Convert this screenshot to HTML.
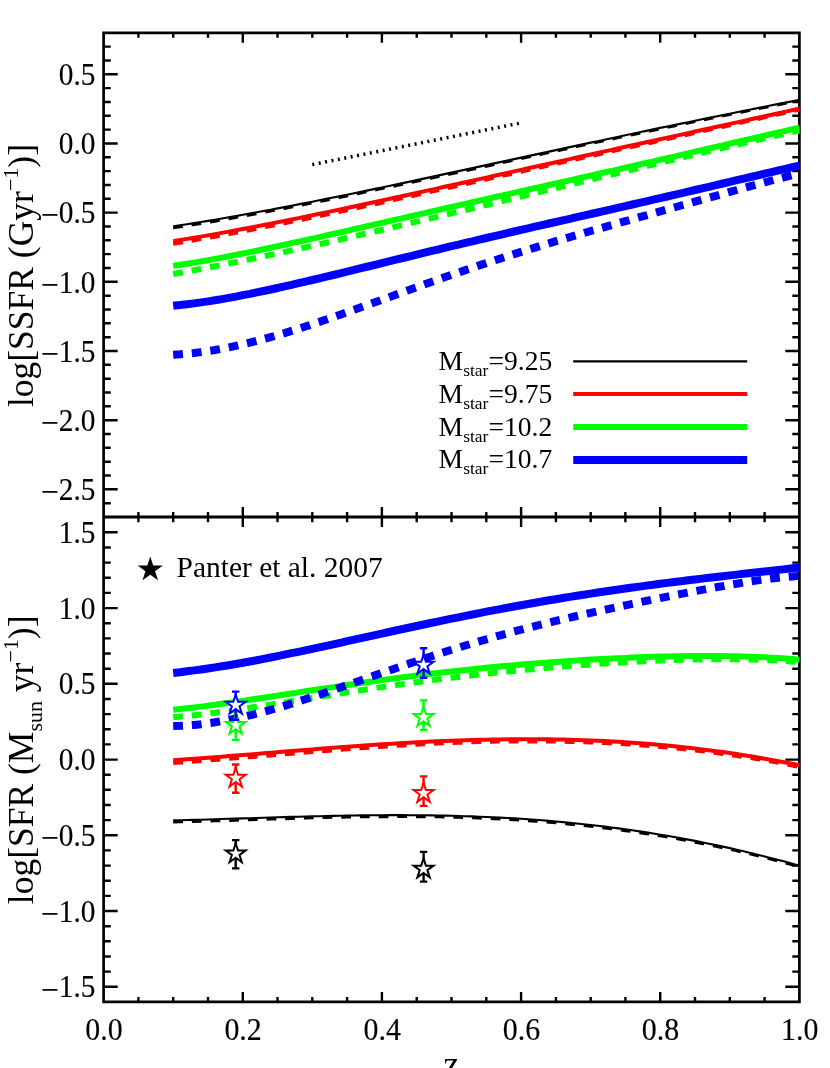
<!DOCTYPE html>
<html><head><meta charset="utf-8"><title>SSFR and SFR vs z</title>
<style>html,body{margin:0;padding:0;background:#fff;overflow:hidden}svg{display:block;will-change:transform}</style></head>
<body>
<svg width="830" height="1068" viewBox="0 0 830 1068">
<rect width="830" height="1068" fill="#fff"/>
<g stroke="#000" stroke-width="2.70" fill="none" stroke-linecap="butt">
<path d="M103.6,32.8 H799.4 V1001.9 H103.6 Z" stroke-linejoin="miter"/>
<path d="M103.6,517.1 H799.4" stroke-width="3"/>
</g>
<g stroke="#000" stroke-width="2.4" fill="none">
<path d="M138.4,32.8 v5.0 M138.4,517.0 v-5.0 M138.4,517.2 v5.0 M138.4,1001.9 v-5.0 M173.2,32.8 v5.0 M173.2,517.0 v-5.0 M173.2,517.2 v5.0 M173.2,1001.9 v-5.0 M208.0,32.8 v5.0 M208.0,517.0 v-5.0 M208.0,517.2 v5.0 M208.0,1001.9 v-5.0 M242.8,32.8 v9.9 M242.8,517.0 v-9.9 M242.8,517.2 v9.9 M242.8,1001.9 v-9.9 M277.5,32.8 v5.0 M277.5,517.0 v-5.0 M277.5,517.2 v5.0 M277.5,1001.9 v-5.0 M312.3,32.8 v5.0 M312.3,517.0 v-5.0 M312.3,517.2 v5.0 M312.3,1001.9 v-5.0 M347.1,32.8 v5.0 M347.1,517.0 v-5.0 M347.1,517.2 v5.0 M347.1,1001.9 v-5.0 M381.9,32.8 v9.9 M381.9,517.0 v-9.9 M381.9,517.2 v9.9 M381.9,1001.9 v-9.9 M416.7,32.8 v5.0 M416.7,517.0 v-5.0 M416.7,517.2 v5.0 M416.7,1001.9 v-5.0 M451.5,32.8 v5.0 M451.5,517.0 v-5.0 M451.5,517.2 v5.0 M451.5,1001.9 v-5.0 M486.3,32.8 v5.0 M486.3,517.0 v-5.0 M486.3,517.2 v5.0 M486.3,1001.9 v-5.0 M521.1,32.8 v9.9 M521.1,517.0 v-9.9 M521.1,517.2 v9.9 M521.1,1001.9 v-9.9 M555.9,32.8 v5.0 M555.9,517.0 v-5.0 M555.9,517.2 v5.0 M555.9,1001.9 v-5.0 M590.7,32.8 v5.0 M590.7,517.0 v-5.0 M590.7,517.2 v5.0 M590.7,1001.9 v-5.0 M625.4,32.8 v5.0 M625.4,517.0 v-5.0 M625.4,517.2 v5.0 M625.4,1001.9 v-5.0 M660.2,32.8 v9.9 M660.2,517.0 v-9.9 M660.2,517.2 v9.9 M660.2,1001.9 v-9.9 M695.0,32.8 v5.0 M695.0,517.0 v-5.0 M695.0,517.2 v5.0 M695.0,1001.9 v-5.0 M729.8,32.8 v5.0 M729.8,517.0 v-5.0 M729.8,517.2 v5.0 M729.8,1001.9 v-5.0 M764.6,32.8 v5.0 M764.6,517.0 v-5.0 M764.6,517.2 v5.0 M764.6,1001.9 v-5.0 M103.6,503.2 h7.1 M799.4,503.2 h-7.1 M103.6,489.3 h14.1 M799.4,489.3 h-14.1 M103.6,475.5 h7.1 M799.4,475.5 h-7.1 M103.6,461.7 h7.1 M799.4,461.7 h-7.1 M103.6,447.8 h7.1 M799.4,447.8 h-7.1 M103.6,434.0 h7.1 M799.4,434.0 h-7.1 M103.6,420.2 h14.1 M799.4,420.2 h-14.1 M103.6,406.3 h7.1 M799.4,406.3 h-7.1 M103.6,392.5 h7.1 M799.4,392.5 h-7.1 M103.6,378.7 h7.1 M799.4,378.7 h-7.1 M103.6,364.8 h7.1 M799.4,364.8 h-7.1 M103.6,351.0 h14.1 M799.4,351.0 h-14.1 M103.6,337.2 h7.1 M799.4,337.2 h-7.1 M103.6,323.3 h7.1 M799.4,323.3 h-7.1 M103.6,309.5 h7.1 M799.4,309.5 h-7.1 M103.6,295.7 h7.1 M799.4,295.7 h-7.1 M103.6,281.8 h14.1 M799.4,281.8 h-14.1 M103.6,268.0 h7.1 M799.4,268.0 h-7.1 M103.6,254.1 h7.1 M799.4,254.1 h-7.1 M103.6,240.3 h7.1 M799.4,240.3 h-7.1 M103.6,226.5 h7.1 M799.4,226.5 h-7.1 M103.6,212.6 h14.1 M799.4,212.6 h-14.1 M103.6,198.8 h7.1 M799.4,198.8 h-7.1 M103.6,185.0 h7.1 M799.4,185.0 h-7.1 M103.6,171.1 h7.1 M799.4,171.1 h-7.1 M103.6,157.3 h7.1 M799.4,157.3 h-7.1 M103.6,143.5 h14.1 M799.4,143.5 h-14.1 M103.6,129.6 h7.1 M799.4,129.6 h-7.1 M103.6,115.8 h7.1 M799.4,115.8 h-7.1 M103.6,102.0 h7.1 M799.4,102.0 h-7.1 M103.6,88.1 h7.1 M799.4,88.1 h-7.1 M103.6,74.3 h14.1 M799.4,74.3 h-14.1 M103.6,60.5 h7.1 M799.4,60.5 h-7.1 M103.6,46.6 h7.1 M799.4,46.6 h-7.1 M103.6,986.8 h14.1 M799.4,986.8 h-14.1 M103.6,971.6 h7.1 M799.4,971.6 h-7.1 M103.6,956.5 h7.1 M799.4,956.5 h-7.1 M103.6,941.3 h7.1 M799.4,941.3 h-7.1 M103.6,926.2 h7.1 M799.4,926.2 h-7.1 M103.6,911.0 h14.1 M799.4,911.0 h-14.1 M103.6,895.9 h7.1 M799.4,895.9 h-7.1 M103.6,880.7 h7.1 M799.4,880.7 h-7.1 M103.6,865.6 h7.1 M799.4,865.6 h-7.1 M103.6,850.4 h7.1 M799.4,850.4 h-7.1 M103.6,835.3 h14.1 M799.4,835.3 h-14.1 M103.6,820.1 h7.1 M799.4,820.1 h-7.1 M103.6,805.0 h7.1 M799.4,805.0 h-7.1 M103.6,789.8 h7.1 M799.4,789.8 h-7.1 M103.6,774.7 h7.1 M799.4,774.7 h-7.1 M103.6,759.6 h14.1 M799.4,759.6 h-14.1 M103.6,744.4 h7.1 M799.4,744.4 h-7.1 M103.6,729.3 h7.1 M799.4,729.3 h-7.1 M103.6,714.1 h7.1 M799.4,714.1 h-7.1 M103.6,699.0 h7.1 M799.4,699.0 h-7.1 M103.6,683.8 h14.1 M799.4,683.8 h-14.1 M103.6,668.7 h7.1 M799.4,668.7 h-7.1 M103.6,653.5 h7.1 M799.4,653.5 h-7.1 M103.6,638.4 h7.1 M799.4,638.4 h-7.1 M103.6,623.2 h7.1 M799.4,623.2 h-7.1 M103.6,608.1 h14.1 M799.4,608.1 h-14.1 M103.6,592.9 h7.1 M799.4,592.9 h-7.1 M103.6,577.8 h7.1 M799.4,577.8 h-7.1 M103.6,562.6 h7.1 M799.4,562.6 h-7.1 M103.6,547.5 h7.1 M799.4,547.5 h-7.1 M103.6,532.3 h14.1 M799.4,532.3 h-14.1"/>
</g>
<g font-family="'Liberation Serif', serif" font-size="29.3" fill="#000" stroke="#000" stroke-width="0.15">
<text transform="translate(95.4,85.0) scale(1,1.05)" text-anchor="end">0.5</text>
<text transform="translate(95.4,154.2) scale(1,1.05)" text-anchor="end">0.0</text>
<text transform="translate(95.4,223.3) scale(1,1.05)" text-anchor="end"><tspan font-size="31.6" dy="3.0">−</tspan><tspan dy="-3.0">0.5</tspan></text>
<text transform="translate(95.4,292.5) scale(1,1.05)" text-anchor="end"><tspan font-size="31.6" dy="3.0">−</tspan><tspan dy="-3.0">1.0</tspan></text>
<text transform="translate(95.4,361.7) scale(1,1.05)" text-anchor="end"><tspan font-size="31.6" dy="3.0">−</tspan><tspan dy="-3.0">1.5</tspan></text>
<text transform="translate(95.4,430.9) scale(1,1.05)" text-anchor="end"><tspan font-size="31.6" dy="3.0">−</tspan><tspan dy="-3.0">2.0</tspan></text>
<text transform="translate(95.4,500.0) scale(1,1.05)" text-anchor="end"><tspan font-size="31.6" dy="3.0">−</tspan><tspan dy="-3.0">2.5</tspan></text>
<text transform="translate(95.4,542.9) scale(1,1.05)" text-anchor="end">1.5</text>
<text transform="translate(95.4,618.7) scale(1,1.05)" text-anchor="end">1.0</text>
<text transform="translate(95.4,694.4) scale(1,1.05)" text-anchor="end">0.5</text>
<text transform="translate(95.4,770.2) scale(1,1.05)" text-anchor="end">0.0</text>
<text transform="translate(95.4,845.9) scale(1,1.05)" text-anchor="end"><tspan font-size="31.6" dy="3.0">−</tspan><tspan dy="-3.0">0.5</tspan></text>
<text transform="translate(95.4,921.6) scale(1,1.05)" text-anchor="end"><tspan font-size="31.6" dy="3.0">−</tspan><tspan dy="-3.0">1.0</tspan></text>
<text transform="translate(95.4,997.4) scale(1,1.05)" text-anchor="end"><tspan font-size="31.6" dy="3.0">−</tspan><tspan dy="-3.0">1.5</tspan></text>
<text transform="translate(103.9,1040.1) scale(1,1.05)" text-anchor="middle"><tspan font-size="29.9">0.0</tspan></text>
<text transform="translate(243.1,1040.1) scale(1,1.05)" text-anchor="middle"><tspan font-size="29.9">0.2</tspan></text>
<text transform="translate(382.2,1040.1) scale(1,1.05)" text-anchor="middle"><tspan font-size="29.9">0.4</tspan></text>
<text transform="translate(521.4,1040.1) scale(1,1.05)" text-anchor="middle"><tspan font-size="29.9">0.6</tspan></text>
<text transform="translate(660.5,1040.1) scale(1,1.05)" text-anchor="middle"><tspan font-size="29.9">0.8</tspan></text>
<text transform="translate(799.7,1040.1) scale(1,1.05)" text-anchor="middle"><tspan font-size="29.9">1.0</tspan></text>
</g>
<g font-family="'Liberation Serif', serif" font-size="35.5" fill="#000">
<text x="451.3" y="1075.6" text-anchor="middle">z</text>
<text transform="translate(33.0,407.1) rotate(-90)">log[SSFR (Gyr<tspan font-size="22.0" dy="-15.3">−1</tspan><tspan dy="15.3">)]</tspan></text>
<text transform="translate(32.9,904.2) rotate(-90)">log[SFR (M<tspan font-size="22.0" dy="8.9">sun</tspan><tspan dy="-8.9"> yr</tspan><tspan font-size="22.0" dy="-15.3">−1</tspan><tspan dy="15.3">)]</tspan></text>
</g>
<g fill="none" stroke-linecap="butt" stroke-linejoin="round">
<path d="M312.3,164.6 L521.1,122.9" stroke="#000" stroke-width="3.5" stroke-dasharray="2.0 4.52"/>
<path d="M173.2,226.4 L180.1,225.3 L187.1,224.2 L194.1,223.1 L201.0,222.0 L208.0,220.9 L214.9,219.7 L221.9,218.5 L228.8,217.3 L235.8,216.1 L242.8,214.8 L249.7,213.6 L256.7,212.3 L263.6,211.0 L270.6,209.7 L277.5,208.4 L284.5,207.1 L291.5,205.8 L298.4,204.4 L305.4,203.0 L312.3,201.7 L319.3,200.3 L326.3,198.9 L333.2,197.5 L340.2,196.1 L347.1,194.7 L354.1,193.2 L361.0,191.8 L368.0,190.4 L375.0,188.9 L381.9,187.5 L388.9,186.0 L395.8,184.5 L402.8,183.1 L409.8,181.6 L416.7,180.1 L423.7,178.6 L430.6,177.1 L437.6,175.6 L444.5,174.1 L451.5,172.6 L458.5,171.1 L465.4,169.6 L472.4,168.1 L479.3,166.6 L486.3,165.1 L493.2,163.6 L500.2,162.1 L507.2,160.6 L514.1,159.1 L521.1,157.6 L528.0,156.1 L535.0,154.6 L542.0,153.1 L548.9,151.6 L555.9,150.1 L562.8,148.6 L569.8,147.1 L576.7,145.6 L583.7,144.1 L590.7,142.6 L597.6,141.2 L604.6,139.7 L611.5,138.2 L618.5,136.7 L625.4,135.2 L632.4,133.8 L639.4,132.3 L646.3,130.9 L653.3,129.4 L660.2,127.9 L667.2,126.5 L674.2,125.1 L681.1,123.6 L688.1,122.2 L695.0,120.8 L702.0,119.3 L708.9,117.9 L715.9,116.5 L722.9,115.1 L729.8,113.7 L736.8,112.3 L743.7,110.9 L750.7,109.5 L757.7,108.1 L764.6,106.7 L771.6,105.3 L778.5,103.9 L785.5,102.6 L792.4,101.2 L799.4,99.8" stroke="#000" stroke-width="2.1"/>
<path d="M173.2,228.1 L180.1,227.1 L187.1,226.0 L194.1,224.8 L201.0,223.7 L208.0,222.5 L214.9,221.4 L221.9,220.2 L228.8,219.0 L235.8,217.7 L242.8,216.5 L249.7,215.2 L256.7,213.9 L263.6,212.6 L270.6,211.3 L277.5,210.0 L284.5,208.7 L291.5,207.3 L298.4,206.0 L305.4,204.6 L312.3,203.2 L319.3,201.8 L326.3,200.4 L333.2,199.0 L340.2,197.6 L347.1,196.2 L354.1,194.7 L361.0,193.3 L368.0,191.8 L375.0,190.4 L381.9,188.9 L388.9,187.5 L395.8,186.0 L402.8,184.5 L409.8,183.0 L416.7,181.5 L423.7,180.0 L430.6,178.5 L437.6,177.0 L444.5,175.5 L451.5,174.0 L458.5,172.5 L465.4,171.0 L472.4,169.5 L479.3,168.0 L486.3,166.5 L493.2,165.0 L500.2,163.5 L507.2,161.9 L514.1,160.4 L521.1,158.9 L528.0,157.4 L535.0,155.9 L542.0,154.4 L548.9,152.9 L555.9,151.4 L562.8,149.9 L569.8,148.4 L576.7,146.9 L583.7,145.4 L590.7,143.9 L597.6,142.4 L604.6,140.9 L611.5,139.4 L618.5,137.9 L625.4,136.4 L632.4,135.0 L639.4,133.5 L646.3,132.0 L653.3,130.5 L660.2,129.1 L667.2,127.6 L674.2,126.2 L681.1,124.7 L688.1,123.3 L695.0,121.8 L702.0,120.4 L708.9,119.0 L715.9,117.6 L722.9,116.1 L729.8,114.7 L736.8,113.3 L743.7,111.9 L750.7,110.5 L757.7,109.1 L764.6,107.7 L771.6,106.3 L778.5,104.9 L785.5,103.5 L792.4,102.2 L799.4,100.8" stroke="#000" stroke-width="2.5" stroke-dasharray="9.78 8.9"/>
<path d="M173.2,241.2 L180.1,240.1 L187.1,238.9 L194.1,237.8 L201.0,236.6 L208.0,235.4 L214.9,234.1 L221.9,232.9 L228.8,231.6 L235.8,230.3 L242.8,229.0 L249.7,227.7 L256.7,226.4 L263.6,225.0 L270.6,223.7 L277.5,222.3 L284.5,220.9 L291.5,219.5 L298.4,218.1 L305.4,216.7 L312.3,215.3 L319.3,213.8 L326.3,212.4 L333.2,210.9 L340.2,209.5 L347.1,208.0 L354.1,206.5 L361.0,205.0 L368.0,203.5 L375.0,202.0 L381.9,200.5 L388.9,199.0 L395.8,197.5 L402.8,196.0 L409.8,194.5 L416.7,193.0 L423.7,191.4 L430.6,189.9 L437.6,188.4 L444.5,186.8 L451.5,185.3 L458.5,183.8 L465.4,182.2 L472.4,180.7 L479.3,179.1 L486.3,177.6 L493.2,176.0 L500.2,174.5 L507.2,173.0 L514.1,171.4 L521.1,169.9 L528.0,168.3 L535.0,166.8 L542.0,165.2 L548.9,163.7 L555.9,162.2 L562.8,160.6 L569.8,159.1 L576.7,157.5 L583.7,156.0 L590.7,154.5 L597.6,152.9 L604.6,151.4 L611.5,149.9 L618.5,148.3 L625.4,146.8 L632.4,145.3 L639.4,143.8 L646.3,142.2 L653.3,140.7 L660.2,139.2 L667.2,137.6 L674.2,136.1 L681.1,134.6 L688.1,133.1 L695.0,131.5 L702.0,130.0 L708.9,128.5 L715.9,127.0 L722.9,125.4 L729.8,123.9 L736.8,122.4 L743.7,120.9 L750.7,119.3 L757.7,117.8 L764.6,116.3 L771.6,114.7 L778.5,113.2 L785.5,111.6 L792.4,110.1 L799.4,108.5" stroke="#f00" stroke-width="4.0"/>
<path d="M173.2,243.9 L180.1,242.7 L187.1,241.5 L194.1,240.4 L201.0,239.1 L208.0,237.9 L214.9,236.7 L221.9,235.4 L228.8,234.1 L235.8,232.8 L242.8,231.5 L249.7,230.2 L256.7,228.8 L263.6,227.4 L270.6,226.1 L277.5,224.7 L284.5,223.3 L291.5,221.9 L298.4,220.4 L305.4,219.0 L312.3,217.6 L319.3,216.1 L326.3,214.6 L333.2,213.2 L340.2,211.7 L347.1,210.2 L354.1,208.7 L361.0,207.2 L368.0,205.7 L375.0,204.2 L381.9,202.7 L388.9,201.1 L395.8,199.6 L402.8,198.1 L409.8,196.5 L416.7,195.0 L423.7,193.4 L430.6,191.9 L437.6,190.3 L444.5,188.8 L451.5,187.2 L458.5,185.7 L465.4,184.1 L472.4,182.6 L479.3,181.0 L486.3,179.5 L493.2,177.9 L500.2,176.3 L507.2,174.8 L514.1,173.2 L521.1,171.7 L528.0,170.1 L535.0,168.5 L542.0,167.0 L548.9,165.4 L555.9,163.9 L562.8,162.3 L569.8,160.7 L576.7,159.2 L583.7,157.6 L590.7,156.1 L597.6,154.5 L604.6,153.0 L611.5,151.4 L618.5,149.9 L625.4,148.3 L632.4,146.8 L639.4,145.2 L646.3,143.7 L653.3,142.2 L660.2,140.6 L667.2,139.1 L674.2,137.5 L681.1,136.0 L688.1,134.5 L695.0,132.9 L702.0,131.4 L708.9,129.8 L715.9,128.3 L722.9,126.7 L729.8,125.2 L736.8,123.6 L743.7,122.1 L750.7,120.5 L757.7,119.0 L764.6,117.4 L771.6,115.9 L778.5,114.3 L785.5,112.8 L792.4,111.2 L799.4,109.6" stroke="#f00" stroke-width="4.0" stroke-dasharray="9.78 8.9"/>
<path d="M173.2,265.9 L180.1,264.8 L187.1,263.7 L194.1,262.6 L201.0,261.4 L208.0,260.2 L214.9,258.9 L221.9,257.6 L228.8,256.3 L235.8,254.9 L242.8,253.5 L249.7,252.1 L256.7,250.7 L263.6,249.2 L270.6,247.7 L277.5,246.3 L284.5,244.8 L291.5,243.2 L298.4,241.7 L305.4,240.2 L312.3,238.6 L319.3,237.1 L326.3,235.5 L333.2,233.9 L340.2,232.4 L347.1,230.8 L354.1,229.2 L361.0,227.6 L368.0,226.0 L375.0,224.4 L381.9,222.8 L388.9,221.2 L395.8,219.6 L402.8,218.1 L409.8,216.5 L416.7,214.9 L423.7,213.3 L430.6,211.7 L437.6,210.1 L444.5,208.5 L451.5,207.0 L458.5,205.4 L465.4,203.8 L472.4,202.2 L479.3,200.7 L486.3,199.1 L493.2,197.5 L500.2,195.9 L507.2,194.4 L514.1,192.8 L521.1,191.2 L528.0,189.7 L535.0,188.1 L542.0,186.6 L548.9,185.0 L555.9,183.4 L562.8,181.9 L569.8,180.3 L576.7,178.7 L583.7,177.2 L590.7,175.6 L597.6,174.0 L604.6,172.4 L611.5,170.9 L618.5,169.3 L625.4,167.7 L632.4,166.1 L639.4,164.5 L646.3,162.9 L653.3,161.3 L660.2,159.8 L667.2,158.2 L674.2,156.6 L681.1,154.9 L688.1,153.3 L695.0,151.7 L702.0,150.1 L708.9,148.5 L715.9,146.9 L722.9,145.3 L729.8,143.7 L736.8,142.0 L743.7,140.4 L750.7,138.8 L757.7,137.2 L764.6,135.6 L771.6,134.0 L778.5,132.4 L785.5,130.8 L792.4,129.2 L799.4,127.6" stroke="#0f0" stroke-width="6.0"/>
<path d="M173.2,274.0 L180.1,272.7 L187.1,271.5 L194.1,270.2 L201.0,268.9 L208.0,267.6 L214.9,266.2 L221.9,264.9 L228.8,263.5 L235.8,262.1 L242.8,260.7 L249.7,259.3 L256.7,257.8 L263.6,256.4 L270.6,254.9 L277.5,253.4 L284.5,251.9 L291.5,250.4 L298.4,248.9 L305.4,247.3 L312.3,245.8 L319.3,244.2 L326.3,242.7 L333.2,241.1 L340.2,239.5 L347.1,237.9 L354.1,236.3 L361.0,234.7 L368.0,233.1 L375.0,231.5 L381.9,229.9 L388.9,228.2 L395.8,226.6 L402.8,225.0 L409.8,223.3 L416.7,221.7 L423.7,220.0 L430.6,218.4 L437.6,216.7 L444.5,215.0 L451.5,213.4 L458.5,211.7 L465.4,210.0 L472.4,208.3 L479.3,206.6 L486.3,205.0 L493.2,203.3 L500.2,201.6 L507.2,199.9 L514.1,198.2 L521.1,196.5 L528.0,194.8 L535.0,193.1 L542.0,191.4 L548.9,189.7 L555.9,188.0 L562.8,186.4 L569.8,184.7 L576.7,183.0 L583.7,181.3 L590.7,179.6 L597.6,177.9 L604.6,176.2 L611.5,174.5 L618.5,172.8 L625.4,171.2 L632.4,169.5 L639.4,167.8 L646.3,166.1 L653.3,164.5 L660.2,162.8 L667.2,161.1 L674.2,159.5 L681.1,157.8 L688.1,156.1 L695.0,154.5 L702.0,152.9 L708.9,151.2 L715.9,149.6 L722.9,147.9 L729.8,146.3 L736.8,144.7 L743.7,143.1 L750.7,141.5 L757.7,139.9 L764.6,138.3 L771.6,136.7 L778.5,135.1 L785.5,133.6 L792.4,132.0 L799.4,130.5" stroke="#0f0" stroke-width="6.0" stroke-dasharray="9.78 8.9"/>
<path d="M173.2,305.8 L180.1,305.1 L187.1,304.3 L194.1,303.4 L201.0,302.4 L208.0,301.4 L214.9,300.3 L221.9,299.1 L228.8,297.9 L235.8,296.6 L242.8,295.2 L249.7,293.9 L256.7,292.4 L263.6,291.0 L270.6,289.5 L277.5,288.0 L284.5,286.4 L291.5,284.8 L298.4,283.2 L305.4,281.6 L312.3,280.0 L319.3,278.3 L326.3,276.6 L333.2,275.0 L340.2,273.3 L347.1,271.6 L354.1,269.9 L361.0,268.2 L368.0,266.5 L375.0,264.8 L381.9,263.1 L388.9,261.4 L395.8,259.7 L402.8,258.0 L409.8,256.3 L416.7,254.6 L423.7,252.9 L430.6,251.2 L437.6,249.6 L444.5,247.9 L451.5,246.2 L458.5,244.6 L465.4,242.9 L472.4,241.3 L479.3,239.6 L486.3,238.0 L493.2,236.4 L500.2,234.8 L507.2,233.1 L514.1,231.5 L521.1,229.9 L528.0,228.3 L535.0,226.7 L542.0,225.1 L548.9,223.5 L555.9,222.0 L562.8,220.4 L569.8,218.8 L576.7,217.2 L583.7,215.6 L590.7,214.0 L597.6,212.5 L604.6,210.9 L611.5,209.3 L618.5,207.7 L625.4,206.1 L632.4,204.5 L639.4,202.9 L646.3,201.3 L653.3,199.7 L660.2,198.1 L667.2,196.5 L674.2,194.9 L681.1,193.3 L688.1,191.7 L695.0,190.0 L702.0,188.4 L708.9,186.8 L715.9,185.2 L722.9,183.5 L729.8,181.9 L736.8,180.2 L743.7,178.6 L750.7,177.0 L757.7,175.3 L764.6,173.7 L771.6,172.1 L778.5,170.4 L785.5,168.8 L792.4,167.2 L799.4,165.6" stroke="#00f" stroke-width="8.0"/>
<path d="M173.2,354.7 L180.1,354.3 L187.1,353.7 L194.1,353.0 L201.0,352.1 L208.0,351.1 L214.9,350.0 L221.9,348.7 L228.8,347.4 L235.8,345.9 L242.8,344.3 L249.7,342.7 L256.7,340.9 L263.6,339.1 L270.6,337.1 L277.5,335.1 L284.5,333.1 L291.5,330.9 L298.4,328.8 L305.4,326.5 L312.3,324.2 L319.3,321.9 L326.3,319.5 L333.2,317.1 L340.2,314.7 L347.1,312.2 L354.1,309.8 L361.0,307.3 L368.0,304.8 L375.0,302.3 L381.9,299.7 L388.9,297.2 L395.8,294.7 L402.8,292.2 L409.8,289.7 L416.7,287.2 L423.7,284.7 L430.6,282.2 L437.6,279.8 L444.5,277.3 L451.5,274.9 L458.5,272.5 L465.4,270.1 L472.4,267.8 L479.3,265.4 L486.3,263.1 L493.2,260.8 L500.2,258.6 L507.2,256.3 L514.1,254.1 L521.1,251.9 L528.0,249.7 L535.0,247.6 L542.0,245.4 L548.9,243.3 L555.9,241.2 L562.8,239.2 L569.8,237.1 L576.7,235.1 L583.7,233.1 L590.7,231.0 L597.6,229.1 L604.6,227.1 L611.5,225.1 L618.5,223.1 L625.4,221.2 L632.4,219.2 L639.4,217.2 L646.3,215.3 L653.3,213.3 L660.2,211.4 L667.2,209.4 L674.2,207.5 L681.1,205.5 L688.1,203.6 L695.0,201.6 L702.0,199.7 L708.9,197.7 L715.9,195.8 L722.9,193.9 L729.8,191.9 L736.8,190.0 L743.7,188.0 L750.7,186.1 L757.7,184.2 L764.6,182.4 L771.6,180.5 L778.5,178.7 L785.5,176.9 L792.4,175.1 L799.4,173.4" stroke="#00f" stroke-width="8.0" stroke-dasharray="9.78 8.9"/>
</g>
<g font-family="'Liberation Serif', serif" font-size="27.6" fill="#000">
<text x="438.6" y="369.8">M<tspan font-size="17.5" dy="6">star</tspan><tspan dy="-6">=9.25</tspan></text>
<text x="438.6" y="402.6">M<tspan font-size="17.5" dy="6">star</tspan><tspan dy="-6">=9.75</tspan></text>
<text x="438.6" y="435.6">M<tspan font-size="17.5" dy="6">star</tspan><tspan dy="-6">=10.2</tspan></text>
<text x="438.6" y="468.4">M<tspan font-size="17.5" dy="6">star</tspan><tspan dy="-6">=10.7</tspan></text>
</g>
<g fill="none">
<path d="M573.2,361.35 H747.2" stroke="#000" stroke-width="2.1"/>
<path d="M573.2,394.00 H747.2" stroke="#f00" stroke-width="4.0"/>
<path d="M573.2,427.00 H747.2" stroke="#0f0" stroke-width="6.0"/>
<path d="M573.2,459.90 H747.2" stroke="#00f" stroke-width="8.0"/>
</g>
<g fill="none" stroke-linecap="butt" stroke-linejoin="round">
<path d="M173.2,820.4 L180.1,820.2 L187.1,820.0 L194.1,819.9 L201.0,819.7 L208.0,819.5 L214.9,819.3 L221.9,819.0 L228.8,818.8 L235.8,818.6 L242.8,818.4 L249.7,818.2 L256.7,818.0 L263.6,817.7 L270.6,817.5 L277.5,817.3 L284.5,817.1 L291.5,816.9 L298.4,816.7 L305.4,816.5 L312.3,816.3 L319.3,816.2 L326.3,816.0 L333.2,815.9 L340.2,815.7 L347.1,815.6 L354.1,815.5 L361.0,815.4 L368.0,815.3 L375.0,815.2 L381.9,815.2 L388.9,815.1 L395.8,815.1 L402.8,815.1 L409.8,815.2 L416.7,815.2 L423.7,815.3 L430.6,815.4 L437.6,815.5 L444.5,815.6 L451.5,815.8 L458.5,816.0 L465.4,816.2 L472.4,816.4 L479.3,816.7 L486.3,817.0 L493.2,817.3 L500.2,817.6 L507.2,818.0 L514.1,818.4 L521.1,818.8 L528.0,819.3 L535.0,819.8 L542.0,820.3 L548.9,820.9 L555.9,821.5 L562.8,822.1 L569.8,822.8 L576.7,823.5 L583.7,824.2 L590.7,825.0 L597.6,825.8 L604.6,826.6 L611.5,827.5 L618.5,828.4 L625.4,829.4 L632.4,830.3 L639.4,831.4 L646.3,832.4 L653.3,833.5 L660.2,834.7 L667.2,835.8 L674.2,837.0 L681.1,838.3 L688.1,839.6 L695.0,840.9 L702.0,842.3 L708.9,843.7 L715.9,845.1 L722.9,846.6 L729.8,848.1 L736.8,849.7 L743.7,851.3 L750.7,853.0 L757.7,854.7 L764.6,856.4 L771.6,858.2 L778.5,860.0 L785.5,861.8 L792.4,863.7 L799.4,865.7" stroke="#000" stroke-width="2.1"/>
<path d="M173.2,822.3 L180.1,822.1 L187.1,821.9 L194.1,821.7 L201.0,821.5 L208.0,821.3 L214.9,821.1 L221.9,820.9 L228.8,820.7 L235.8,820.5 L242.8,820.2 L249.7,820.0 L256.7,819.8 L263.6,819.6 L270.6,819.3 L277.5,819.1 L284.5,818.9 L291.5,818.7 L298.4,818.5 L305.4,818.3 L312.3,818.1 L319.3,817.9 L326.3,817.8 L333.2,817.6 L340.2,817.5 L347.1,817.3 L354.1,817.2 L361.0,817.1 L368.0,817.0 L375.0,816.9 L381.9,816.9 L388.9,816.9 L395.8,816.8 L402.8,816.8 L409.8,816.9 L416.7,816.9 L423.7,817.0 L430.6,817.0 L437.6,817.1 L444.5,817.3 L451.5,817.4 L458.5,817.6 L465.4,817.8 L472.4,818.0 L479.3,818.3 L486.3,818.6 L493.2,818.9 L500.2,819.2 L507.2,819.6 L514.1,820.0 L521.1,820.4 L528.0,820.9 L535.0,821.4 L542.0,821.9 L548.9,822.5 L555.9,823.1 L562.8,823.7 L569.8,824.4 L576.7,825.0 L583.7,825.8 L590.7,826.5 L597.6,827.3 L604.6,828.2 L611.5,829.0 L618.5,829.9 L625.4,830.9 L632.4,831.8 L639.4,832.9 L646.3,833.9 L653.3,835.0 L660.2,836.1 L667.2,837.3 L674.2,838.5 L681.1,839.8 L688.1,841.0 L695.0,842.4 L702.0,843.7 L708.9,845.1 L715.9,846.6 L722.9,848.0 L729.8,849.6 L736.8,851.1 L743.7,852.7 L750.7,854.4 L757.7,856.1 L764.6,857.8 L771.6,859.6 L778.5,861.4 L785.5,863.2 L792.4,865.1 L799.4,867.0" stroke="#000" stroke-width="2.5" stroke-dasharray="9.78 8.9"/>
<path d="M173.2,760.3 L180.1,759.8 L187.1,759.3 L194.1,758.8 L201.0,758.3 L208.0,757.7 L214.9,757.2 L221.9,756.7 L228.8,756.1 L235.8,755.5 L242.8,755.0 L249.7,754.4 L256.7,753.9 L263.6,753.3 L270.6,752.7 L277.5,752.2 L284.5,751.6 L291.5,751.0 L298.4,750.5 L305.4,749.9 L312.3,749.4 L319.3,748.8 L326.3,748.3 L333.2,747.8 L340.2,747.2 L347.1,746.7 L354.1,746.2 L361.0,745.7 L368.0,745.3 L375.0,744.8 L381.9,744.3 L388.9,743.9 L395.8,743.5 L402.8,743.1 L409.8,742.7 L416.7,742.3 L423.7,741.9 L430.6,741.6 L437.6,741.3 L444.5,741.0 L451.5,740.7 L458.5,740.5 L465.4,740.2 L472.4,740.0 L479.3,739.8 L486.3,739.7 L493.2,739.5 L500.2,739.4 L507.2,739.3 L514.1,739.2 L521.1,739.2 L528.0,739.2 L535.0,739.2 L542.0,739.3 L548.9,739.3 L555.9,739.5 L562.8,739.6 L569.8,739.8 L576.7,740.0 L583.7,740.2 L590.7,740.5 L597.6,740.8 L604.6,741.1 L611.5,741.4 L618.5,741.8 L625.4,742.3 L632.4,742.7 L639.4,743.2 L646.3,743.8 L653.3,744.3 L660.2,745.0 L667.2,745.6 L674.2,746.3 L681.1,747.0 L688.1,747.8 L695.0,748.6 L702.0,749.4 L708.9,750.3 L715.9,751.2 L722.9,752.1 L729.8,753.1 L736.8,754.1 L743.7,755.2 L750.7,756.3 L757.7,757.5 L764.6,758.7 L771.6,759.9 L778.5,761.2 L785.5,762.5 L792.4,763.8 L799.4,765.2" stroke="#f00" stroke-width="4.0"/>
<path d="M173.2,763.1 L180.1,762.6 L187.1,762.1 L194.1,761.6 L201.0,761.1 L208.0,760.5 L214.9,760.0 L221.9,759.4 L228.8,758.9 L235.8,758.3 L242.8,757.7 L249.7,757.2 L256.7,756.6 L263.6,756.0 L270.6,755.4 L277.5,754.8 L284.5,754.3 L291.5,753.7 L298.4,753.1 L305.4,752.5 L312.3,752.0 L319.3,751.4 L326.3,750.9 L333.2,750.3 L340.2,749.8 L347.1,749.3 L354.1,748.8 L361.0,748.2 L368.0,747.8 L375.0,747.3 L381.9,746.8 L388.9,746.4 L395.8,745.9 L402.8,745.5 L409.8,745.1 L416.7,744.7 L423.7,744.3 L430.6,744.0 L437.6,743.6 L444.5,743.3 L451.5,743.0 L458.5,742.8 L465.4,742.5 L472.4,742.3 L479.3,742.1 L486.3,741.9 L493.2,741.8 L500.2,741.6 L507.2,741.5 L514.1,741.5 L521.1,741.4 L528.0,741.4 L535.0,741.4 L542.0,741.4 L548.9,741.5 L555.9,741.6 L562.8,741.7 L569.8,741.9 L576.7,742.1 L583.7,742.3 L590.7,742.5 L597.6,742.8 L604.6,743.1 L611.5,743.5 L618.5,743.9 L625.4,744.3 L632.4,744.7 L639.4,745.2 L646.3,745.7 L653.3,746.3 L660.2,746.9 L667.2,747.5 L674.2,748.2 L681.1,748.9 L688.1,749.6 L695.0,750.4 L702.0,751.2 L708.9,752.1 L715.9,753.0 L722.9,753.9 L729.8,754.9 L736.8,755.9 L743.7,757.0 L750.7,758.1 L757.7,759.2 L764.6,760.4 L771.6,761.6 L778.5,762.9 L785.5,764.2 L792.4,765.5 L799.4,766.9" stroke="#f00" stroke-width="4.0" stroke-dasharray="9.78 8.9"/>
<path d="M173.2,709.8 L180.1,709.1 L187.1,708.3 L194.1,707.5 L201.0,706.6 L208.0,705.7 L214.9,704.8 L221.9,703.8 L228.8,702.9 L235.8,701.9 L242.8,700.9 L249.7,699.8 L256.7,698.8 L263.6,697.7 L270.6,696.7 L277.5,695.6 L284.5,694.5 L291.5,693.5 L298.4,692.4 L305.4,691.3 L312.3,690.2 L319.3,689.2 L326.3,688.1 L333.2,687.1 L340.2,686.1 L347.1,685.0 L354.1,684.0 L361.0,683.0 L368.0,682.0 L375.0,681.0 L381.9,680.1 L388.9,679.1 L395.8,678.2 L402.8,677.3 L409.8,676.4 L416.7,675.5 L423.7,674.7 L430.6,673.8 L437.6,673.0 L444.5,672.2 L451.5,671.4 L458.5,670.7 L465.4,669.9 L472.4,669.2 L479.3,668.5 L486.3,667.8 L493.2,667.1 L500.2,666.5 L507.2,665.8 L514.1,665.2 L521.1,664.6 L528.0,664.0 L535.0,663.5 L542.0,662.9 L548.9,662.4 L555.9,661.9 L562.8,661.4 L569.8,660.9 L576.7,660.5 L583.7,660.0 L590.7,659.6 L597.6,659.2 L604.6,658.9 L611.5,658.5 L618.5,658.2 L625.4,657.9 L632.4,657.6 L639.4,657.3 L646.3,657.1 L653.3,656.8 L660.2,656.6 L667.2,656.5 L674.2,656.3 L681.1,656.2 L688.1,656.1 L695.0,656.0 L702.0,656.0 L708.9,656.0 L715.9,656.0 L722.9,656.1 L729.8,656.2 L736.8,656.3 L743.7,656.5 L750.7,656.7 L757.7,657.0 L764.6,657.3 L771.6,657.7 L778.5,658.1 L785.5,658.6 L792.4,659.1 L799.4,659.7" stroke="#0f0" stroke-width="6.0"/>
<path d="M173.2,717.3 L180.1,716.6 L187.1,716.0 L194.1,715.2 L201.0,714.4 L208.0,713.6 L214.9,712.7 L221.9,711.8 L228.8,710.9 L235.8,709.9 L242.8,708.9 L249.7,707.8 L256.7,706.8 L263.6,705.7 L270.6,704.6 L277.5,703.5 L284.5,702.4 L291.5,701.3 L298.4,700.1 L305.4,699.0 L312.3,697.9 L319.3,696.8 L326.3,695.7 L333.2,694.6 L340.2,693.5 L347.1,692.4 L354.1,691.3 L361.0,690.2 L368.0,689.2 L375.0,688.1 L381.9,687.1 L388.9,686.1 L395.8,685.1 L402.8,684.1 L409.8,683.2 L416.7,682.2 L423.7,681.3 L430.6,680.4 L437.6,679.5 L444.5,678.6 L451.5,677.8 L458.5,676.9 L465.4,676.1 L472.4,675.3 L479.3,674.5 L486.3,673.8 L493.2,673.0 L500.2,672.3 L507.2,671.6 L514.1,670.9 L521.1,670.2 L528.0,669.6 L535.0,668.9 L542.0,668.3 L548.9,667.7 L555.9,667.1 L562.8,666.6 L569.8,666.0 L576.7,665.5 L583.7,665.0 L590.7,664.5 L597.6,664.0 L604.6,663.5 L611.5,663.1 L618.5,662.7 L625.4,662.3 L632.4,661.9 L639.4,661.5 L646.3,661.2 L653.3,660.9 L660.2,660.6 L667.2,660.3 L674.2,660.1 L681.1,659.8 L688.1,659.6 L695.0,659.5 L702.0,659.4 L708.9,659.3 L715.9,659.2 L722.9,659.2 L729.8,659.2 L736.8,659.3 L743.7,659.4 L750.7,659.5 L757.7,659.7 L764.6,660.0 L771.6,660.3 L778.5,660.6 L785.5,661.1 L792.4,661.6 L799.4,662.2" stroke="#0f0" stroke-width="6.0" stroke-dasharray="9.78 8.9"/>
<path d="M173.2,672.9 L180.1,672.2 L187.1,671.3 L194.1,670.4 L201.0,669.5 L208.0,668.5 L214.9,667.4 L221.9,666.3 L228.8,665.2 L235.8,664.0 L242.8,662.7 L249.7,661.5 L256.7,660.2 L263.6,658.8 L270.6,657.5 L277.5,656.1 L284.5,654.6 L291.5,653.2 L298.4,651.8 L305.4,650.3 L312.3,648.8 L319.3,647.3 L326.3,645.8 L333.2,644.3 L340.2,642.8 L347.1,641.2 L354.1,639.7 L361.0,638.2 L368.0,636.6 L375.0,635.1 L381.9,633.6 L388.9,632.0 L395.8,630.5 L402.8,629.0 L409.8,627.5 L416.7,626.0 L423.7,624.5 L430.6,623.0 L437.6,621.6 L444.5,620.1 L451.5,618.7 L458.5,617.3 L465.4,615.9 L472.4,614.5 L479.3,613.1 L486.3,611.7 L493.2,610.4 L500.2,609.1 L507.2,607.8 L514.1,606.5 L521.1,605.2 L528.0,604.0 L535.0,602.7 L542.0,601.5 L548.9,600.3 L555.9,599.2 L562.8,598.0 L569.8,596.9 L576.7,595.8 L583.7,594.7 L590.7,593.6 L597.6,592.5 L604.6,591.5 L611.5,590.5 L618.5,589.5 L625.4,588.5 L632.4,587.5 L639.4,586.6 L646.3,585.6 L653.3,584.7 L660.2,583.8 L667.2,582.9 L674.2,582.0 L681.1,581.2 L688.1,580.3 L695.0,579.5 L702.0,578.6 L708.9,577.8 L715.9,577.0 L722.9,576.2 L729.8,575.4 L736.8,574.6 L743.7,573.8 L750.7,573.0 L757.7,572.2 L764.6,571.5 L771.6,570.7 L778.5,569.9 L785.5,569.1 L792.4,568.3 L799.4,567.6" stroke="#00f" stroke-width="8.0"/>
<path d="M173.2,726.0 L180.1,725.8 L187.1,725.4 L194.1,724.9 L201.0,724.2 L208.0,723.3 L214.9,722.3 L221.9,721.1 L228.8,719.9 L235.8,718.5 L242.8,716.9 L249.7,715.3 L256.7,713.6 L263.6,711.8 L270.6,709.9 L277.5,707.9 L284.5,705.8 L291.5,703.7 L298.4,701.5 L305.4,699.3 L312.3,697.0 L319.3,694.7 L326.3,692.3 L333.2,689.9 L340.2,687.5 L347.1,685.1 L354.1,682.7 L361.0,680.3 L368.0,677.8 L375.0,675.4 L381.9,673.0 L388.9,670.6 L395.8,668.2 L402.8,665.8 L409.8,663.4 L416.7,661.1 L423.7,658.7 L430.6,656.5 L437.6,654.2 L444.5,652.0 L451.5,649.8 L458.5,647.6 L465.4,645.5 L472.4,643.4 L479.3,641.3 L486.3,639.3 L493.2,637.3 L500.2,635.3 L507.2,633.4 L514.1,631.5 L521.1,629.7 L528.0,627.9 L535.0,626.1 L542.0,624.3 L548.9,622.6 L555.9,620.9 L562.8,619.3 L569.8,617.6 L576.7,616.0 L583.7,614.4 L590.7,612.9 L597.6,611.3 L604.6,609.8 L611.5,608.3 L618.5,606.8 L625.4,605.3 L632.4,603.8 L639.4,602.4 L646.3,600.9 L653.3,599.5 L660.2,598.1 L667.2,596.7 L674.2,595.3 L681.1,593.9 L688.1,592.5 L695.0,591.2 L702.0,589.9 L708.9,588.6 L715.9,587.3 L722.9,586.1 L729.8,584.8 L736.8,583.7 L743.7,582.5 L750.7,581.4 L757.7,580.4 L764.6,579.4 L771.6,578.5 L778.5,577.7 L785.5,577.0 L792.4,576.4 L799.4,575.8" stroke="#00f" stroke-width="8.0" stroke-dasharray="9.78 8.9"/>
</g>
<g stroke="#000" stroke-width="2.4" fill="none">
<path d="M235.7,840.1 V868.4 M232.0,840.1 h7.4 M232.0,868.4 h7.4"/>
<polygon points="235.70,843.20 238.06,850.46 245.69,850.46 239.52,854.94 241.87,862.19 235.70,857.71 229.53,862.19 231.89,854.94 225.72,850.46 233.34,850.46" fill="#fff" stroke-width="2.0" stroke-linejoin="miter" stroke-miterlimit="10"/>
</g>
<g stroke="#000" stroke-width="2.4" fill="none">
<path d="M423.6,851.9 V881.6 M419.9,851.9 h7.4 M419.9,881.6 h7.4"/>
<polygon points="423.57,858.40 425.93,865.66 433.55,865.66 427.38,870.14 429.74,877.39 423.57,872.91 417.40,877.39 419.75,870.14 413.58,865.66 421.21,865.66" fill="#fff" stroke-width="2.0" stroke-linejoin="miter" stroke-miterlimit="10"/>
</g>
<g stroke="#f00" stroke-width="2.4" fill="none">
<path d="M235.7,764.5 V792.8 M232.0,764.5 h7.4 M232.0,792.8 h7.4"/>
<polygon points="235.70,767.55 238.06,774.81 245.69,774.81 239.52,779.29 241.87,786.54 235.70,782.06 229.53,786.54 231.89,779.29 225.72,774.81 233.34,774.81" fill="#fff" stroke-width="2.0" stroke-linejoin="miter" stroke-miterlimit="10"/>
</g>
<g stroke="#f00" stroke-width="2.4" fill="none">
<path d="M423.6,776.4 V805.9 M419.9,776.4 h7.4 M419.9,805.9 h7.4"/>
<polygon points="423.57,782.80 425.93,790.06 433.55,790.06 427.38,794.54 429.74,801.79 423.57,797.31 417.40,801.79 419.75,794.54 413.58,790.06 421.21,790.06" fill="#fff" stroke-width="2.0" stroke-linejoin="miter" stroke-miterlimit="10"/>
</g>
<g stroke="#0f0" stroke-width="2.4" fill="none">
<path d="M235.7,711.6 V739.9 M232.0,711.6 h7.4 M232.0,739.9 h7.4"/>
<polygon points="235.70,714.65 238.06,721.91 245.69,721.91 239.52,726.39 241.87,733.64 235.70,729.16 229.53,733.64 231.89,726.39 225.72,721.91 233.34,721.91" fill="#fff" stroke-width="2.0" stroke-linejoin="miter" stroke-miterlimit="10"/>
</g>
<g stroke="#0f0" stroke-width="2.4" fill="none">
<path d="M423.6,700.4 V729.9 M419.9,700.4 h7.4 M419.9,729.9 h7.4"/>
<polygon points="423.57,706.85 425.93,714.11 433.55,714.11 427.38,718.59 429.74,725.84 423.57,721.36 417.40,725.84 419.75,718.59 413.58,714.11 421.21,714.11" fill="#fff" stroke-width="2.0" stroke-linejoin="miter" stroke-miterlimit="10"/>
</g>
<g stroke="#00f" stroke-width="2.4" fill="none">
<path d="M235.7,691.6 V719.9 M232.0,691.6 h7.4 M232.0,719.9 h7.4"/>
<polygon points="235.70,694.55 238.06,701.81 245.69,701.81 239.52,706.29 241.87,713.54 235.70,709.06 229.53,713.54 231.89,706.29 225.72,701.81 233.34,701.81" fill="#fff" stroke-width="2.0" stroke-linejoin="miter" stroke-miterlimit="10"/>
</g>
<g stroke="#00f" stroke-width="2.4" fill="none">
<path d="M423.6,648.2 V677.8 M419.9,648.2 h7.4 M419.9,677.8 h7.4"/>
<polygon points="423.57,654.60 425.93,661.86 433.55,661.86 427.38,666.34 429.74,673.59 423.57,669.11 417.40,673.59 419.75,666.34 413.58,661.86 421.21,661.86" fill="#fff" stroke-width="2.0" stroke-linejoin="miter" stroke-miterlimit="10"/>
</g>
<polygon points="150.25,556.40 153.21,565.52 162.80,565.52 155.05,571.16 158.01,580.28 150.25,574.64 142.49,580.28 145.45,571.16 137.70,565.52 147.29,565.52" fill="#000"/>
<text x="176.6" y="576.7" font-family="'Liberation Serif', serif" font-size="29.45" fill="#000">Panter et al. 2007</text>
</svg>
</body></html>
